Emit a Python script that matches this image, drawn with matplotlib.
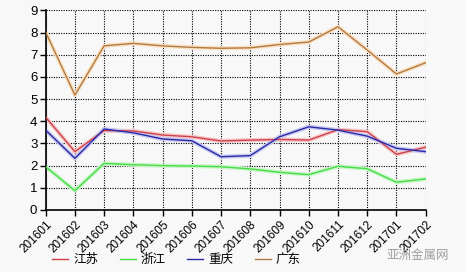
import matplotlib
matplotlib.use("Agg")
import matplotlib.pyplot as plt
from matplotlib.lines import Line2D

plt.rcParams['font.family'] = ['Liberation Sans', 'Noto Sans CJK SC', 'DejaVu Sans']

# months on the x axis
months = ["201601", "201602", "201603", "201604", "201605", "201606", "201607",
          "201608", "201609", "201610", "201611", "201612", "201701", "201702"]

# series
jiangsu = [4.18, 2.63, 3.58, 3.56, 3.38, 3.30, 3.11, 3.15, 3.18, 3.15, 3.62, 3.53, 2.51, 2.83]
zhejiang = [1.95, 0.87, 2.10, 2.04, 2.00, 1.98, 1.95, 1.85, 1.70, 1.59, 1.97, 1.86, 1.25, 1.40]
chongqing = [3.60, 2.33, 3.65, 3.48, 3.20, 3.12, 2.40, 2.45, 3.30, 3.75, 3.60, 3.33, 2.78, 2.63]
guangdong = [8.02, 5.18, 7.40, 7.51, 7.40, 7.33, 7.29, 7.31, 7.46, 7.57, 8.26, 7.21, 6.13, 6.64]

names = ["江苏", "浙江", "重庆", "广东"]
colors = ["#d0404a", "#44dd44", "#2a2aa8", "#b07a45"]
glows = ["#f5c8c8", "#c8f5c8", "#c8c8f0", "#fbe0c0"]

fig = plt.figure(figsize=(4.66, 2.72), dpi=100)
fig.patch.set_facecolor("#f8f8f8")
ax = fig.add_axes([0.098, 0.228, 0.8155, 0.734])
ax.set_facecolor("#f8f8f8")

x = list(range(len(months)))
for ys, c, g in zip([jiangsu, zhejiang, chongqing, guangdong], colors, glows):
    ax.plot(x, ys, color=g, lw=3.0, zorder=2)
    ax.plot(x, ys, color=c, lw=1.0, zorder=3)

ax.set_xlim(0, len(months) - 1)
ax.set_ylim(0, 9)
ax.set_yticks(range(10))
ax.set_xticks(x)
ax.set_xticklabels(months, rotation=45, ha="right", rotation_mode="anchor", fontsize=8.5)
ax.tick_params(axis="y", labelsize=9.5, length=4, width=1, pad=2)
ax.tick_params(axis="x", length=4, width=1, pad=2)
ax.grid(True, color="black", linestyle=(0, (1, 1.2)), linewidth=0.8)

for s in ["top", "right"]:
    ax.spines[s].set_visible(False)
for s in ["left", "bottom"]:
    ax.spines[s].set_linewidth(1.2)

handles = [Line2D([], [], color=c, lw=1.0) for c in colors]
fig.legend(handles, names, loc="center left", bbox_to_anchor=(0.112, 1 - 260 / 272),
           ncol=4, frameon=False, fontsize=9, handlelength=1.3, handletextpad=0.4,
           columnspacing=1.7, borderpad=0, borderaxespad=0)

# watermark
fig.text(0.83, 1 - 255 / 272, "亚洲金属网", color="#a0a0a0", fontsize=9,
         family=['Noto Sans CJK SC', 'DejaVu Sans'], va="center")

fig.savefig("out.png", dpi=100, facecolor=fig.get_facecolor())
